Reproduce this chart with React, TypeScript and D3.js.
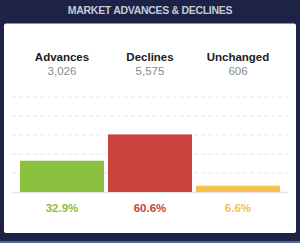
import * as d3 from 'd3';

const categories = ['Advances', 'Declines', 'Unchanged'];
const counts = ['3,026', '5,575', '606'];
const percents = [32.9, 60.6, 6.6];
const colors = ['#8cc13f', '#c8423e', '#f5c24f'];
const gridTicks = [0, 20, 40, 60, 80, 100];

const W = 300;
const H = 243;

export default function App() {
  const x = d3.scaleBand<string>().domain(categories).range([20, 280]).paddingInner(0.045).paddingOuter(0);
  const y = d3.scaleLinear().domain([0, 100]).range([192, 97]);
  const font = '"Helvetica Neue", Helvetica, "Liberation Sans", Arial, sans-serif';

  return (
    <svg width={W} height={H} style={{ display: 'block', position: 'fixed', left: 0, top: 0 }} fontFamily={font}>
      <rect x={0} y={0} width={W} height={H} fill="#1c2347" />
      <rect x={0} y={241} width={W} height={2} fill="#4d6e98" />
      <text x={150} y={13.5} textAnchor="middle" fontSize={10.5} fontWeight="bold" fill="#c6cad6" letterSpacing={-0.3}>
        MARKET ADVANCES &amp; DECLINES
      </text>
      <rect x={4} y={23.5} width={292} height={209.5} rx={2} fill="#ffffff" />

      {gridTicks.map((t) =>
        t === 0 ? (
          <line key={t} x1={12} x2={288} y1={y(t) + 0.5} y2={y(t) + 0.5} stroke="#e3e3e3" strokeWidth={1.5} />
        ) : (
          <line key={t} x1={12} x2={288} y1={y(t)} y2={y(t)} stroke="#e6e6e6" strokeWidth={1} strokeDasharray="4,3" />
        )
      )}

      {categories.map((c, i) => (
        <rect key={c} x={x(c)} y={y(percents[i])} width={x.bandwidth()} height={y(0) - y(percents[i])} fill={colors[i]} />
      ))}

      {categories.map((c, i) => {
        const cx = (x(c) ?? 0) + x.bandwidth() / 2;
        return (
          <g key={c}>
            <text x={cx} y={61} textAnchor="middle" fontSize={11.5} fontWeight="bold" fill="#1a1a1a">
              {c}
            </text>
            <text x={cx} y={75} textAnchor="middle" fontSize={11.5} fill="#8a8a8a">
              {counts[i]}
            </text>
            <text x={cx} y={211.5} textAnchor="middle" fontSize={11.5} fontWeight="bold" fill={colors[i]}>
              {percents[i].toFixed(1)}%
            </text>
          </g>
        );
      })}
    </svg>
  );
}
